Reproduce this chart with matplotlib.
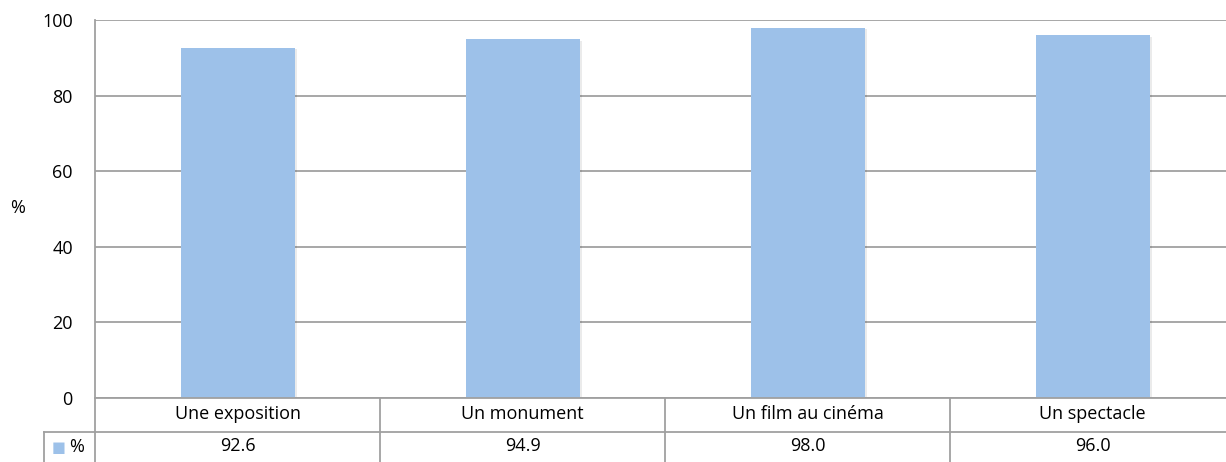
import matplotlib
matplotlib.use("Agg")
import matplotlib.pyplot as plt
import matplotlib.patheffects as pe

categories = ["Une exposition", "Un monument", "Un film au cinéma", "Un spectacle"]
values = [92.6, 94.9, 98.0, 96.0]
value_labels = ["92.6", "94.9", "98.0", "96.0"]
series_name = "%"
yticks = [0, 20, 40, 60, 80, 100]

W, H = 1226, 462
fig = plt.figure(figsize=(W / 100, H / 100), dpi=100)
plt.rcParams['font.family'] = ['Open Sans', 'DejaVu Sans']
FS = 13

left_px, right_px, top_px, bot_px = 95, 1235, 20, 398
ax = fig.add_axes([left_px / W, 1 - bot_px / H, (right_px - left_px) / W, (bot_px - top_px) / H])

bar_color = "#9DC1E9"
grid_color = "#A0A0A0"
x = list(range(len(categories)))
bars = ax.bar(x, values, width=0.4, color=bar_color, zorder=3)
for b in bars:
    b.set_path_effects([pe.SimplePatchShadow(offset=(2, -1), shadow_rgbFace="#000000", alpha=0.08), pe.Normal()])

ax.set_xlim(-0.5, len(categories) - 0.5)
ax.set_ylim(0, 100)
ax.set_yticks(yticks)
ax.set_yticklabels([str(v) for v in yticks], fontsize=FS)
ax.tick_params(axis='y', length=0, pad=16)
ax.set_xticks([])
ax.yaxis.grid(True, color=grid_color, linewidth=1.3, zorder=0)
for s in ["top", "right", "bottom"]:
    ax.spines[s].set_visible(False)
ax.spines["left"].set_color(grid_color)
ax.spines["left"].set_linewidth(1.3)

fig.text(18 / W, 1 - 208 / H, "%", fontsize=FS, ha="center", va="center")

# data table
ppu = (bot_px - top_px) / 100.0  # pixels per y unit
hdr_bot = -34 / ppu
row_bot = -70 / ppu
leg_left = -0.5 - 51 / ((right_px - left_px) / len(categories))
lk = dict(color=grid_color, linewidth=1.3, clip_on=False, zorder=5)
ax.plot([-0.5, len(categories) - 0.5], [0, 0], **lk)
ax.plot([leg_left, len(categories) - 0.5], [hdr_bot, hdr_bot], **lk)
ax.plot([leg_left, leg_left], [hdr_bot, row_bot], **lk)
for i in range(len(categories) + 1):
    ax.plot([i - 0.5, i - 0.5], [0, row_bot], **lk)
for i, (c, v) in enumerate(zip(categories, value_labels)):
    ax.text(i, -16 / ppu, c, ha="center", va="center", fontsize=FS, clip_on=False)
    ax.text(i, -48 / ppu, v, ha="center", va="center", fontsize=FS, clip_on=False)

fig.text(52 / W, 1 - 447 / H, "■", color=bar_color, fontsize=10.5, ha="left", va="center", family="DejaVu Sans")
fig.text(69 / W, 1 - 447 / H, series_name, fontsize=FS, ha="left", va="center")

fig.savefig("out.png", dpi=100)
